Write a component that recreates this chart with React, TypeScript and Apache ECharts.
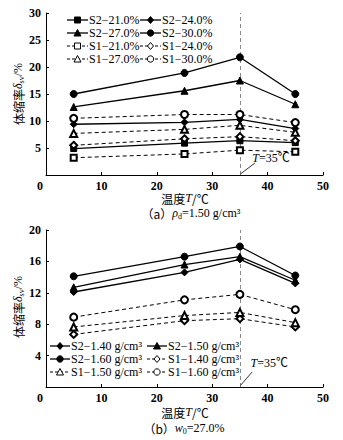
import React, { useEffect, useRef } from "react";
import * as echarts from "echarts";

const X = [5, 25, 35, 45];

// Chart (a): rho_d = 1.50 g/cm3
const namesA = ["S2−21.0%", "S2−24.0%", "S2−27.0%", "S2−30.0%", "S1−21.0%", "S1−24.0%", "S1−27.0%", "S1−30.0%"];
const symA = ["rect", "diamond", "triangle", "circle", "emptyRect", "emptyDiamond", "emptyTriangle", "emptyCircle"];
const S2_21 = [4.9, 5.9, 6.35, 6.0];
const S2_24 = [9.4, 9.75, 10.3, 8.6];
const S2_27 = [12.6, 15.6, 17.5, 13.1];
const S2_30 = [15.0, 18.9, 21.8, 15.0];
const S1_21 = [3.2, 3.9, 4.6, 4.3];
const S1_24 = [5.5, 6.7, 7.1, 6.35];
const S1_27 = [7.7, 8.45, 9.2, 7.9];
const S1_30 = [10.5, 11.2, 11.2, 9.7];

// Chart (b): w0 = 27.0%
const namesB = ["S2−1.40 g/cm³", "S2−1.50 g/cm³", "S2−1.60 g/cm³", "S1−1.40 g/cm³", "S1−1.50 g/cm³", "S1−1.60 g/cm³"];
const symB = ["diamond", "triangle", "circle", "emptyDiamond", "emptyTriangle", "emptyCircle"];
const S2_140 = [12.1, 14.6, 16.25, 13.2];
const S2_150 = [12.7, 15.6, 16.6, 13.6];
const S2_160 = [14.1, 16.6, 17.9, 14.2];
const S1_140 = [6.7, 8.45, 8.7, 7.65];
const S1_150 = [7.65, 9.1, 9.5, 8.2];
const S1_160 = [8.9, 11.1, 11.8, 9.85];

const FONT = '"Liberation Serif", "Noto Sans CJK SC", serif';
const CJK = '"Noto Sans CJK SC", "Liberation Serif", sans-serif';

const rich = {
  i: { fontFamily: FONT, fontStyle: "italic", fontSize: 12, fill: "#000", color: "#000" },
  n: { fontFamily: FONT, fontSize: 12, fill: "#000", color: "#000" },
  c: { fontFamily: CJK, fontSize: 12, fill: "#000", color: "#000" },
  sub: { fontFamily: FONT, fontSize: 8, fill: "#000", color: "#000", padding: [6, 0, 0, 0] },
  z: { fontFamily: FONT, fontSize: 12, fontWeight: "bold", color: "#000", padding: [0, 12, 0, 0] },
};

function mk(name: string, vals: number[], symbol: string, gi: number, extra: any = {}) {
  const dashed = symbol.indexOf("empty") === 0;
  return {
    type: "line",
    name,
    xAxisIndex: gi,
    yAxisIndex: gi,
    data: X.map((x, i) => [x, vals[i]]),
    symbol,
    symbolSize: symbol.indexOf("Rect") >= 0 || symbol === "rect" ? 6 : 7,
    showAllSymbol: true,
    color: "#000",
    itemStyle: { color: "#000", borderColor: "#000", borderWidth: 1 },
    lineStyle: { color: "#000", width: dashed ? 1 : 1.3, type: dashed ? [4, 3] : "solid" },
    z: 3,
    ...extra,
  };
}

function vline() {
  return {
    silent: true,
    symbol: "none",
    label: { show: false },
    lineStyle: { color: "#8a8a8a", type: [4, 3], width: 1 },
    z: 1,
    data: [{ xAxis: 35 }],
  };
}

function arrow(from: number[], to: number[]) {
  return {
    silent: true,
    symbol: ["none", "arrow"],
    symbolSize: [0, 6],
    label: { show: false },
    lineStyle: { color: "#000", type: "solid", width: 0.8 },
    data: [[{ coord: from }, { coord: to }]],
  };
}

function note(at: number[]) {
  return {
    silent: true,
    symbol: "circle",
    symbolSize: 0,
    label: { show: true, position: "inside", formatter: "{i|T}{n|=35℃}", rich },
    data: [{ coord: at }],
  };
}

function xAxis(gi: number) {
  return {
    type: "value",
    gridIndex: gi,
    min: 0,
    max: 50,
    interval: 10,
    axisLine: { show: true, onZero: false, lineStyle: { color: "#000", width: 1 } },
    axisTick: { show: true, inside: true, length: 3, lineStyle: { color: "#000" } },
    splitLine: { show: false },
    axisLabel: {
      color: "#000",
      fontFamily: FONT,
      fontSize: 12,
      fontWeight: "bold",
      margin: 5,
      formatter: (v: number) => (v === 0 ? "{z|0}" : String(v)),
      rich,
    },
  };
}

function yAxis(gi: number, max: number, interval: number) {
  return {
    type: "value",
    gridIndex: gi,
    min: 0,
    max,
    interval,
    axisLine: { show: true, lineStyle: { color: "#000", width: 1 } },
    axisTick: { show: true, inside: true, length: 3, lineStyle: { color: "#000" } },
    splitLine: { show: false },
    axisLabel: { color: "#000", fontFamily: FONT, fontSize: 12, fontWeight: "bold", margin: 5, showMinLabel: false },
  };
}

function legendItem(name: string, symbol: string, x: number, y: number, w: number): any[] {
  const hollow = symbol.indexOf("empty") === 0;
  const base = hollow ? symbol.slice(5).toLowerCase() : symbol;
  const cx = x + w / 2;
  const fill = hollow ? "#fff" : "#000";
  const st = { fill, stroke: "#000", lineWidth: 1 };
  let shape: any;
  if (base === "rect") shape = { type: "rect", shape: { x: cx - 3, y: y - 3, width: 6, height: 6 }, style: st };
  else if (base === "circle") shape = { type: "circle", shape: { cx, cy: y, r: 3.2 }, style: st };
  else if (base === "triangle")
    shape = { type: "polygon", shape: { points: [[cx, y - 3.5], [cx + 3.5, y + 3], [cx - 3.5, y + 3]] }, style: st };
  else shape = { type: "polygon", shape: { points: [[cx, y - 3.5], [cx + 3, y], [cx, y + 3.5], [cx - 3, y]] }, style: st };
  return [
    {
      type: "line",
      shape: { x1: x, y1: y, x2: x + w, y2: y },
      style: { stroke: "#000", lineWidth: hollow ? 1 : 1.3, lineDash: hollow ? [3, 2] : null },
      z: 10,
    },
    { ...shape, z: 11 },
    {
      type: "text",
      x: x + w + 1,
      y,
      z: 11,
      style: {
        text: name,
        fontFamily: FONT,
        fontSize: 12,
        fill: "#000",
        align: "left",
        verticalAlign: "middle",
      },
    },
  ];
}

export default function App() {
  const ref = useRef<HTMLDivElement>(null);
  useEffect(() => {
    document.body.style.margin = "0";
    const chart = echarts.init(ref.current!, null, { renderer: "svg" });

    const legendGraphics: any[] = [];
    const rowsA = [20, 33, 46, 59];
    const colsA = [67, 140];
    namesA.forEach((n, k) => {
      legendGraphics.push(...legendItem(n, symA[k], colsA[k % 2], rowsA[Math.floor(k / 2)], 21));
    });
    const rowsB = [346, 359, 372];
    const colsB = [50, 147];
    namesB.forEach((n, k) => {
      legendGraphics.push(...legendItem(n, symB[k], colsB[k % 2], rowsB[Math.floor(k / 2)], 20));
    });

    const textEl = (text: string, x: number, y: number, rotation = 0) => ({
      type: "text",
      x,
      y,
      rotation,
      style: { text, align: "center", verticalAlign: "middle", fontFamily: FONT, fontSize: 12, fill: "#000", rich },
    });

    const option: any = {
      animation: false,
      backgroundColor: "#fff",
      grid: [
        { left: 46, top: 13, width: 277, height: 162 },
        { left: 46, top: 230, width: 277, height: 157 },
      ],
      xAxis: [xAxis(0), xAxis(1)],
      yAxis: [yAxis(0, 30, 5), yAxis(1, 20, 4)],
      series: [
        mk(namesA[0], S2_21, symA[0], 0, { markLine: vline() }),
        mk(namesA[1], S2_24, symA[1], 0, { markLine: arrow([37.7, 2.2], [35.1, 0.2]), markPoint: note([40.6, 3.1]) }),
        mk(namesA[2], S2_27, symA[2], 0),
        mk(namesA[3], S2_30, symA[3], 0),
        mk(namesA[4], S1_21, symA[4], 0),
        mk(namesA[5], S1_24, symA[5], 0),
        mk(namesA[6], S1_27, symA[6], 0),
        mk(namesA[7], S1_30, symA[7], 0),
        mk(namesB[0], S2_140, symB[0], 1, { markLine: vline() }),
        mk(namesB[1], S2_150, symB[1], 1, { markLine: arrow([37.2, 1.9], [35.1, 0.2]), markPoint: note([40.3, 3.0]) }),
        mk(namesB[2], S2_160, symB[2], 1),
        mk(namesB[3], S1_140, symB[3], 1),
        mk(namesB[4], S1_150, symB[4], 1),
        mk(namesB[5], S1_160, symB[5], 1),
      ],
      graphic: [
        ...legendGraphics,
        textEl("{c|温度}{i|T}{c|/℃}", 185, 198),
        textEl("{c|温度}{i|T}{c|/℃}", 185, 412),
        textEl("{c|体缩率}{i|δ}{sub|sv}{n|/%}", 18, 94, Math.PI / 2),
        textEl("{c|体缩率}{i|δ}{sub|sv}{n|/%}", 18, 307, Math.PI / 2),
        textEl("{c|（a）}{i|ρ}{sub|d}{n|=1.50 g/cm³}", 191, 213),
        textEl("{c|（b）}{i|w}{sub|0}{n|=27.0%}", 184, 428),
      ],
    };
    chart.setOption(option);
    return () => chart.dispose();
  }, []);
  return <div ref={ref} style={{ width: 343, height: 440 }} />;
}
